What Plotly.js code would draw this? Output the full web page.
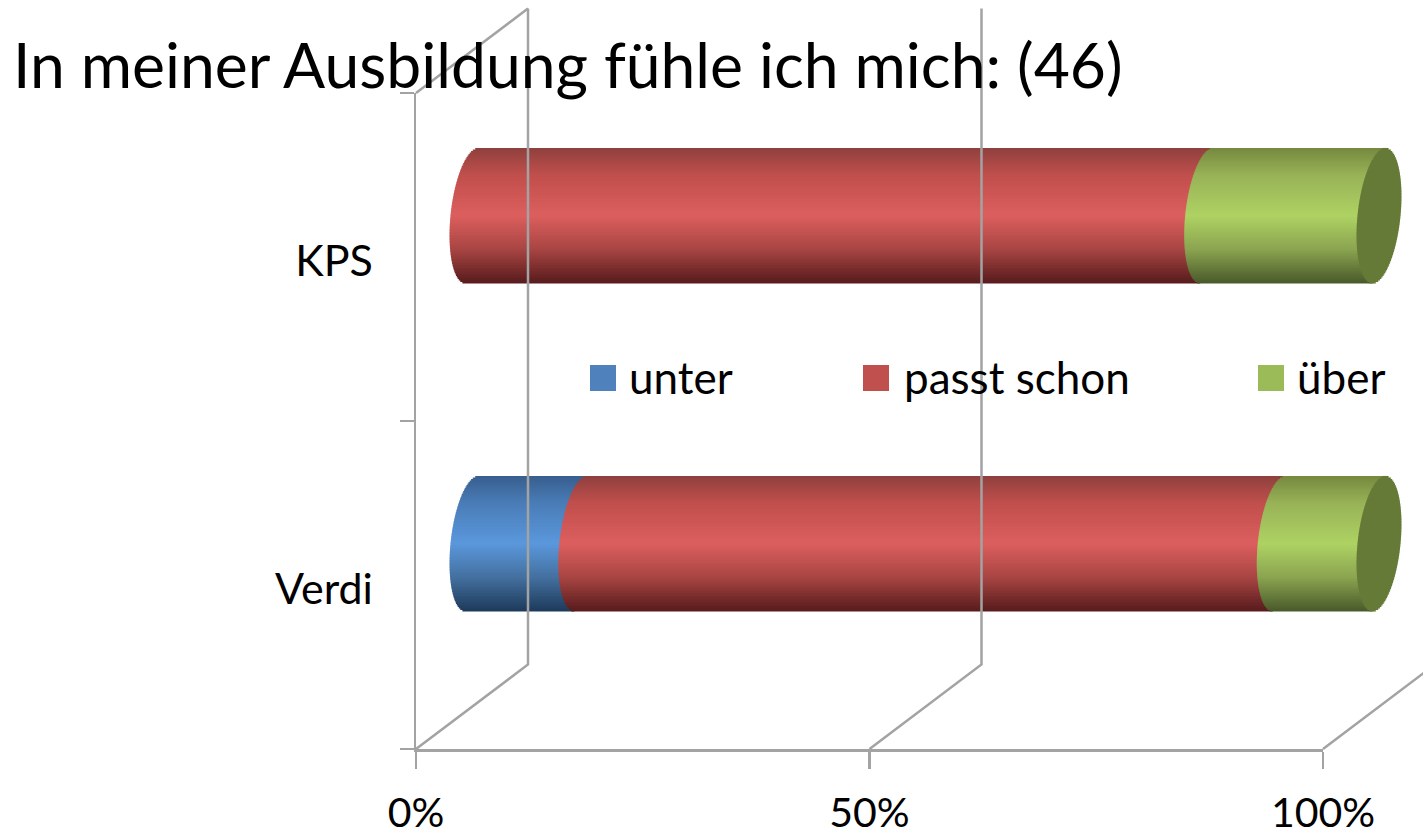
<!DOCTYPE html>
<html><head><meta charset="utf-8">
<script src="https://cdn.plot.ly/plotly-3.0.1.min.js"></script>
<style>html,body{margin:0;padding:0;background:#fff;overflow:hidden}#c{width:1423px;height:833px}</style>
</head><body><div id="c"></div>
<script>
// ---- data
const categories = ['Verdi', 'KPS'];
const unter = [12, 0];
const passtSchon = [77, 81];
const ueber = [11, 19];
const seriesNames = ['unter', 'passt schon', 'über'];
const tickPercent = [0, 50, 100];
const tickLabels = ['0%', '50%', '100%'];
const titleText = 'In meiner Ausbildung fühle ich mich: (46)';

// ---- colours (top → bottom of the cylinder)
const shadeStops = [-1, -0.6, 0, 0.5, 1];
const blueShades = ['#375e8e', '#4a7cb7', '#5a97dc', '#44709f', '#1e3a5c'];
const redShades = ['#8f403e', '#c04f4c', '#dc5f5e', '#a84543', '#581b1c'];
const greenShades = ['#76893f', '#98b257', '#aed263', '#8ba450', '#4a5a2b'];
const capColor = '#667a38';
const swatchColors = ['#4f81bd', '#c0504d', '#9bbb59'];
const gridColor = '#a3a3a3';
const FONT = 'Lato, Carlito, sans-serif';

// ---- geometry of the pseudo-3D frame, px
const W = 1423, H = 833;
const X0 = 416, X100 = 1323, YBOT = 749, YTOP = 93;
const pxPerPct = (X100 - X0) / 100, pxPerCat = (YBOT - YTOP) / 2;
const depthX = 112 / pxPerPct, depthY = 84.5 / pxPerCat;
const barHalf = 67.5 / pxPerCat, bulge = 21.5 / pxPerPct, shear = 6.5 / pxPerPct;
const N = 90;

function hex(c) { return [1, 3, 5].map(i => parseInt(c.substr(i, 2), 16)); }
function shade(stops, t) {
  let i = 0;
  while (i < shadeStops.length - 2 && t > shadeStops[i + 1]) i++;
  const f = (t - shadeStops[i]) / (shadeStops[i + 1] - shadeStops[i]);
  const a = hex(stops[i]), b = hex(stops[i + 1]);
  return 'rgb(' + a.map((v, k) => Math.round(v + (b[k] - v) * f)).join(',') + ')';
}
const ts = Array.from({ length: N }, (_, i) => -1 + (2 * i + 1) / N);
const offX = depthX / 2, offY = depthY / 2 - 1 / pxPerCat;

function cylinderTrace(name, vals, starts, stops) {
  const y = [], base = [], x = [], color = [];
  vals.forEach((v, c) => {
    if (!v) return;
    ts.forEach(t => {
      const s = Math.sqrt(1 - t * t);
      const left = starts[c] + offX - shear * t - bulge * s;
      const right = starts[c] + v + offX - shear * t;
      y.push(c + offY - t * barHalf);
      base.push(left); x.push(right - left);
      color.push(shade(stops, t));
    });
  });
  return { type: 'bar', orientation: 'h', name, xaxis: 'x2', yaxis: 'y2', y, x, base,
    width: 2 * barHalf / N * 1.4, marker: { color, line: { width: 0 } }, hoverinfo: 'skip', showlegend: false };
}

const starts1 = unter.map(() => 0);
const starts2 = unter.slice();
const starts3 = unter.map((u, i) => u + passtSchon[i]);
const traces = [];

// invisible trace that binds categories to the visible axes
traces.push({ type: 'scatter', mode: 'markers', x: categories.map(() => 0), y: categories,
  marker: { opacity: 0 }, hoverinfo: 'skip', showlegend: false });

// back wall and floor lines
const wx = [], wy = [];
tickPercent.forEach(v => {
  wx.push(v, v + depthX, v + depthX, null);
  wy.push(-0.5, -0.5 + depthY, 1.5 + depthY, null);
});
wx.push(0, depthX); wy.push(1.5, 1.5 + depthY);
traces.push({ type: 'scatter', mode: 'lines', xaxis: 'x2', yaxis: 'y2', x: wx, y: wy,
  line: { color: gridColor, width: 2.5 }, hoverinfo: 'skip', showlegend: false, connectgaps: false });

traces.push(cylinderTrace(seriesNames[0], unter, starts1, blueShades));
traces.push(cylinderTrace(seriesNames[1], passtSchon, starts2, redShades));
traces.push(cylinderTrace(seriesNames[2], ueber, starts3, greenShades));

// end cap
const capY = [], capB = [], capX = [];
categories.forEach((_, c) => {
  const end = unter[c] + passtSchon[c] + ueber[c];
  ts.forEach(t => {
    const s = Math.sqrt(1 - t * t);
    capY.push(c + offY - t * barHalf);
    capB.push(end + offX - shear * t - bulge * s);
    capX.push(2 * bulge * s);
  });
});
traces.push({ type: 'bar', orientation: 'h', name: 'Ende', xaxis: 'x2', yaxis: 'y2', y: capY, x: capX, base: capB,
  width: 2 * barHalf / N * 1.4, marker: { color: capColor, line: { width: 0 } }, hoverinfo: 'skip', showlegend: false });

// legend
const legendSwatchX = [590, 863, 1258], legendTextX = [630, 905, 1298], legendY = 378, swatch = 26;
const shapes = seriesNames.map((_, i) => ({ type: 'rect', xref: 'paper', yref: 'paper',
  x0: legendSwatchX[i] / W, x1: (legendSwatchX[i] + swatch) / W,
  y0: 1 - (legendY + swatch / 2) / H, y1: 1 - (legendY - swatch / 2) / H,
  fillcolor: swatchColors[i], line: { width: 0 }, layer: 'above' }));
const annotations = seriesNames.map((n, i) => ({ xref: 'paper', yref: 'paper', showarrow: false,
  x: legendTextX[i] / W, y: 1 - (legendY - 1) / H, xanchor: 'left', yanchor: 'middle', text: n,
  xshift: -3, font: { family: FONT, size: 44, color: '#000' } }));

const layout = {
  width: W, height: H, margin: { l: 0, r: 0, t: 0, b: 0, pad: 0 },
  paper_bgcolor: '#fff', plot_bgcolor: 'rgba(0,0,0,0)', barmode: 'overlay', showlegend: false,
  font: { family: FONT, color: '#000' },
  title: { text: titleText, x: 13 / W, xanchor: 'left', y: 1 - 66.5 / H, yanchor: 'middle',
    font: { family: FONT, size: 62.4, color: '#000' } },
  xaxis: { domain: [X0 / W, X100 / W], range: [0, 100], tickmode: 'array', tickvals: tickPercent, ticktext: tickLabels,
    showgrid: false, zeroline: false, showline: true, linecolor: gridColor, linewidth: 2.5,
    ticks: 'outside', ticklen: 17, tickwidth: 2.5, tickcolor: gridColor,
    ticklabelstandoff: 9, tickfont: { family: FONT, size: 41, color: '#000' }, anchor: 'y' },
  yaxis: { domain: [1 - YBOT / H, 1 - YTOP / H], type: 'category', categoryarray: categories, range: [-0.5, 1.5],
    tickson: 'boundaries', showgrid: false, zeroline: false, showline: true, linecolor: gridColor, linewidth: 2.5,
    ticks: 'outside', ticklen: 14, tickwidth: 2.5, tickcolor: gridColor,
    ticklabelstandoff: 32, ticklabelshift: 4, tickfont: { family: FONT, size: 43, color: '#000' }, anchor: 'x' },
  xaxis2: { domain: [0, 1], range: [-X0 / pxPerPct, (W - X0) / pxPerPct], visible: false, anchor: 'y2', fixedrange: true },
  yaxis2: { domain: [0, 1], range: [(585 - H) / pxPerCat, 585 / pxPerCat], visible: false, anchor: 'x2', fixedrange: true },
  shapes, annotations
};
Plotly.newPlot('c', traces, layout, { displayModeBar: false, staticPlot: true });
</script></body></html>
